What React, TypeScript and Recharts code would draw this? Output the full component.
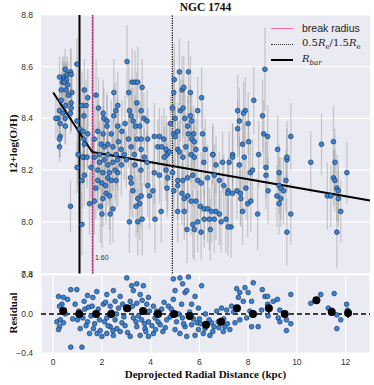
import React from "react";
import {
  ScatterChart,
  Scatter,
  XAxis,
  YAxis,
  CartesianGrid,
  ReferenceLine,
  ErrorBar,
} from "recharts";

// [radius kpc, 12+log(O/H), error]
const ohData: [number, number, number][] = [
  [0.97, 8.61, 0.1], [0.49, 8.59, 0.08], [0.71, 8.58, 0.09], [0.57, 8.57, 0.07], [0.74, 8.57, 0.1],
  [0.41, 8.56, 0.06], [0.26, 8.56, 0.08], [0.44, 8.55, 0.09], [0.55, 8.55, 0.07], [0.38, 8.54, 0.1],
  [0.46, 8.54, 0.08], [0.6, 8.53, 0.09], [0.33, 8.51, 0.07], [0.53, 8.51, 0.1], [0.77, 8.5, 0.08],
  [0.63, 8.49, 0.09], [0.74, 8.46, 0.11], [0.33, 8.47, 0.08], [0.74, 8.44, 0.09], [0.52, 8.45, 0.1],
  [0.71, 8.42, 0.08], [0.26, 8.43, 0.07], [0.4, 8.42, 0.09], [0.19, 8.4, 0.06], [0.11, 8.4, 0.08],
  [0.49, 8.4, 0.1], [0.29, 8.38, 0.09], [0.5, 8.37, 0.07], [0.29, 8.33, 0.08], [0.26, 8.32, 0.07],
  [0.26, 8.29, 0.06],
  [3.03, 8.62, 0.14], [1.28, 8.51, 0.12], [3.24, 8.54, 0.13], [3.36, 8.54, 0.12], [3.47, 8.54, 0.14],
  [3.65, 8.52, 0.11], [2.49, 8.5, 0.13], [3.1, 8.5, 0.12], [1.76, 8.49, 0.14], [1.42, 8.48, 0.11],
  [3.43, 8.46, 0.12], [1.18, 8.45, 0.13], [1.35, 8.45, 0.1], [1.86, 8.44, 0.12], [2.65, 8.45, 0.13],
  [2.57, 8.43, 0.11], [3.13, 8.43, 0.12], [3.61, 8.43, 0.1],
  [0.98, 8.39, 0.12], [1.26, 8.41, 0.11], [2.05, 8.42, 0.13], [2.08, 8.4, 0.12], [2.21, 8.39, 0.1],
  [2.49, 8.41, 0.12], [3.2, 8.41, 0.11], [3.28, 8.39, 0.13], [3.72, 8.4, 0.1], [3.85, 8.39, 0.12],
  [2.95, 8.38, 0.11], [3.37, 8.37, 0.12], [3.55, 8.37, 0.1], [2.21, 8.37, 0.13], [2.65, 8.37, 0.11],
  [1.08, 8.36, 0.12], [1.23, 8.35, 0.1], [1.42, 8.34, 0.13], [1.83, 8.35, 0.12], [2.05, 8.34, 0.11],
  [2.38, 8.34, 0.13], [2.82, 8.35, 0.12],
  [1.26, 8.32, 0.11], [1.69, 8.32, 0.13], [1.97, 8.3, 0.12], [2.24, 8.3, 0.1], [2.68, 8.31, 0.12],
  [3.09, 8.32, 0.11], [3.44, 8.32, 0.13], [3.61, 8.32, 0.1], [3.88, 8.32, 0.12],
  [1.28, 8.3, 0.12], [2.1, 8.29, 0.11], [2.45, 8.29, 0.13], [2.79, 8.28, 0.1], [3.2, 8.29, 0.12],
  [3.61, 8.28, 0.11],
  [1.02, 8.26, 0.12], [1.26, 8.25, 0.1], [1.9, 8.26, 0.13], [2.24, 8.26, 0.11], [2.58, 8.26, 0.12],
  [2.92, 8.26, 0.1], [3.33, 8.26, 0.13], [3.74, 8.25, 0.11],
  [1.22, 8.25, 0.11], [1.39, 8.25, 0.12], [0.98, 8.21, 0.1], [1.28, 8.18, 0.12], [1.18, 8.16, 0.11],
  [0.71, 8.06, 0.1], [1.18, 7.99, 0.12], [1.69, 8.08, 0.13], [1.49, 8.07, 0.12], [1.94, 8.06, 0.14],
  [2.0, 8.03, 0.13], [2.34, 8.03, 0.12], [2.45, 8.05, 0.13], [2.17, 8.11, 0.12], [2.31, 8.1, 0.13],
  [2.04, 8.09, 0.11], [1.83, 8.16, 0.12], [2.0, 8.15, 0.13], [2.24, 8.17, 0.11], [2.38, 8.16, 0.12],
  [2.65, 8.19, 0.13], [2.58, 8.16, 0.11],
  [3.17, 8.17, 0.12], [3.2, 8.15, 0.13], [3.27, 8.12, 0.11], [3.47, 8.09, 0.13], [3.61, 8.1, 0.12],
  [3.55, 8.07, 0.14], [3.4, 8.06, 0.12], [3.65, 8.01, 0.14], [3.47, 8.0, 0.13], [3.13, 8.0, 0.12],
  [3.88, 8.14, 0.12], [3.95, 8.1, 0.13],
  [1.69, 8.25, 0.12], [1.9, 8.23, 0.11], [2.1, 8.24, 0.13], [2.24, 8.22, 0.12], [2.45, 8.23, 0.11],
  [2.65, 8.24, 0.12], [1.83, 8.2, 0.13], [2.04, 8.19, 0.12], [2.31, 8.19, 0.11], [2.54, 8.2, 0.12],
  [2.8, 8.22, 0.12], [3.0, 8.24, 0.11], [3.35, 8.22, 0.12], [3.6, 8.2, 0.11], [3.85, 8.23, 0.12],
  [1.55, 8.21, 0.12], [1.75, 8.13, 0.12], [2.15, 8.14, 0.12],
  [5.18, 8.58, 0.13], [5.55, 8.58, 0.12], [4.97, 8.55, 0.14], [5.29, 8.51, 0.13], [5.36, 8.52, 0.12],
  [4.95, 8.5, 0.13], [5.63, 8.5, 0.14], [6.09, 8.48, 0.12], [4.89, 8.44, 0.13], [5.22, 8.43, 0.12],
  [5.33, 8.44, 0.11], [5.93, 8.43, 0.13], [5.63, 8.41, 0.12], [5.0, 8.4, 0.11], [5.4, 8.4, 0.13],
  [5.68, 8.39, 0.12], [4.81, 8.38, 0.11], [5.52, 8.37, 0.12],
  [7.57, 8.43, 0.14], [7.88, 8.43, 0.13], [7.81, 8.42, 0.12], [7.64, 8.39, 0.13], [8.0, 8.38, 0.12],
  [7.57, 8.36, 0.11], [8.23, 8.47, 0.13],
  [6.13, 8.34, 0.12], [5.76, 8.34, 0.11], [5.55, 8.34, 0.13], [4.95, 8.34, 0.12], [5.11, 8.35, 0.11],
  [5.01, 8.33, 0.12], [4.15, 8.33, 0.13], [4.54, 8.32, 0.12], [4.36, 8.33, 0.11],
  [5.68, 8.32, 0.12], [5.79, 8.31, 0.11], [5.44, 8.29, 0.13], [5.86, 8.28, 0.12], [4.29, 8.29, 0.11],
  [4.45, 8.29, 0.12], [4.63, 8.28, 0.13], [4.67, 8.26, 0.12], [5.11, 8.28, 0.11],
  [6.24, 8.28, 0.12], [7.77, 8.3, 0.13], [8.02, 8.31, 0.12], [6.55, 8.26, 0.11], [7.36, 8.26, 0.12],
  [7.84, 8.25, 0.13],
  [4.56, 8.25, 0.12], [4.77, 8.27, 0.11], [5.18, 8.27, 0.12], [5.32, 8.25, 0.13], [5.66, 8.26, 0.11],
  [5.79, 8.25, 0.12], [6.18, 8.23, 0.13], [6.55, 8.26, 0.12], [6.68, 8.22, 0.11], [6.95, 8.23, 0.12],
  [7.36, 8.25, 0.13], [7.22, 8.23, 0.12], [7.64, 8.22, 0.11], [8.09, 8.19, 0.12], [8.43, 8.26, 0.13],
  [8.18, 8.2, 0.12],
  [4.15, 8.19, 0.12], [4.36, 8.18, 0.11], [4.63, 8.2, 0.12], [4.7, 8.17, 0.13], [4.9, 8.19, 0.12],
  [5.11, 8.16, 0.11], [5.32, 8.16, 0.12], [5.52, 8.17, 0.13], [5.73, 8.18, 0.12], [5.93, 8.16, 0.11],
  [6.07, 8.15, 0.12], [6.34, 8.17, 0.13], [6.61, 8.18, 0.12], [6.82, 8.16, 0.11], [7.0, 8.14, 0.12],
  [7.18, 8.12, 0.13], [7.36, 8.11, 0.12], [7.54, 8.12, 0.11], [7.68, 8.11, 0.12], [7.98, 8.07, 0.13],
  [8.11, 8.08, 0.12], [8.39, 8.03, 0.14],
  [4.09, 8.12, 0.12], [4.67, 8.13, 0.11], [4.95, 8.12, 0.12], [5.11, 8.14, 0.13], [5.28, 8.11, 0.12],
  [5.38, 8.09, 0.11], [5.52, 8.1, 0.12], [5.66, 8.08, 0.13], [5.86, 8.08, 0.12], [6.04, 8.06, 0.11],
  [6.2, 8.05, 0.12], [6.34, 8.05, 0.13], [6.5, 8.04, 0.12], [6.68, 8.04, 0.11], [6.82, 8.03, 0.12],
  [7.09, 8.01, 0.13], [7.3, 7.98, 0.12], [7.18, 7.98, 0.11], [6.89, 8.0, 0.12], [6.61, 8.01, 0.13],
  [6.41, 8.01, 0.12], [6.2, 8.01, 0.11], [5.93, 8.0, 0.12], [5.73, 7.99, 0.13], [5.79, 7.97, 0.12],
  [6.07, 7.96, 0.11], [6.45, 7.97, 0.12], [5.49, 7.97, 0.13],
  [4.43, 8.04, 0.12], [4.18, 8.01, 0.13], [5.11, 8.04, 0.12], [5.38, 8.04, 0.11], [7.77, 8.04, 0.13],
  [7.16, 8.11, 0.12], [7.7, 8.09, 0.11], [7.91, 8.13, 0.12],
  [8.73, 8.21, 0.12], [8.73, 8.18, 0.13], [9.59, 8.24, 0.12], [9.27, 8.19, 0.11], [9.55, 8.16, 0.12],
  [8.82, 8.12, 0.13], [9.18, 8.1, 0.12], [9.27, 8.14, 0.11], [9.34, 8.13, 0.12], [9.45, 8.12, 0.13],
  [9.27, 8.07, 0.12], [9.34, 8.09, 0.11], [9.75, 8.03, 0.12], [9.59, 7.96, 0.13], [10.57, 8.23, 0.12],
  [11.56, 8.23, 0.13], [12.05, 8.19, 0.12], [11.5, 8.17, 0.11], [11.56, 8.16, 0.12], [11.64, 8.13, 0.13],
  [11.7, 8.12, 0.12], [11.25, 8.1, 0.13], [11.39, 8.1, 0.12], [11.7, 8.09, 0.11], [11.8, 8.04, 0.12],
  [11.64, 7.96, 0.14],
  [8.69, 8.59, 0.16], [8.59, 8.41, 0.14], [8.64, 8.34, 0.13], [8.8, 8.33, 0.12], [9.21, 8.28, 0.13],
  [9.59, 8.25, 0.14], [9.75, 8.33, 0.13], [11.01, 8.3, 0.12], [11.5, 8.31, 0.14],
];

// [radius kpc, residual]
const residData: [number, number][] = [
  [0.72, 0.25], [0.22, 0.18], [0.42, 0.17], [0.59, 0.15], [0.36, 0.1], [0.26, 0.08], [0.15, -0.08],
  [0.29, -0.06], [0.42, -0.09], [0.26, -0.13], [0.22, -0.16], [0.72, -0.34], [1.18, -0.34],
  [0.97, 0.25], [1.41, 0.19], [1.63, 0.17], [1.79, 0.23], [1.27, 0.13], [0.9, 0.1], [1.45, 0.07],
  [1.0, -0.06], [1.22, -0.04], [1.41, -0.08], [1.11, -0.15], [1.49, -0.2], [1.65, -0.15], [1.93, -0.17],
  [2.0, -0.23],
  [2.2, 0.2], [2.47, 0.24], [2.75, 0.18], [2.54, 0.13], [2.06, 0.1], [2.34, 0.08], [2.68, 0.06],
  [2.2, -0.04], [2.54, -0.06], [2.82, -0.09], [2.34, -0.13], [2.61, -0.15], [2.2, -0.2], [2.47, -0.22],
  [2.75, -0.18],
  [3.02, 0.37], [3.22, 0.29], [3.43, 0.31], [3.7, 0.29], [3.29, 0.24], [3.57, 0.2], [3.91, 0.17],
  [3.16, 0.13], [3.43, 0.11], [3.84, 0.1], [4.11, 0.08], [3.29, -0.04], [3.63, -0.06], [3.91, -0.08],
  [4.18, -0.04], [3.43, -0.13], [3.77, -0.15], [3.16, -0.23], [3.57, -0.22], [3.91, -0.23], [4.11, -0.2],
  [4.5, -0.18], [4.39, -0.11], [4.66, -0.06], [4.25, 0.03], [4.73, 0.08],
  [4.93, 0.36], [5.2, 0.37], [5.31, 0.31], [5.0, 0.24], [5.41, 0.22], [4.93, 0.15], [5.27, 0.1],
  [5.06, -0.08], [5.41, -0.13], [5.0, -0.16], [5.2, -0.2], [5.48, -0.23],
  [5.55, 0.38], [5.48, 0.24], [5.82, 0.18], [6.09, 0.29], [5.68, 0.1], [5.96, 0.06], [5.68, -0.11],
  [5.96, -0.16], [6.23, -0.15], [6.5, -0.09], [5.82, -0.22], [6.43, -0.22], [6.16, -0.2],
  [6.71, 0.03], [6.91, 0.06], [7.12, 0.04], [7.32, 0.08], [6.77, -0.08], [7.05, -0.13], [7.25, -0.16],
  [7.46, -0.09], [6.98, -0.18],
  [7.53, 0.26], [7.66, 0.22], [7.87, 0.27], [7.6, 0.17], [8.0, 0.22], [7.8, 0.13], [8.21, 0.32],
  [8.14, 0.13], [8.07, 0.03], [7.66, -0.06], [7.94, -0.04], [8.14, -0.13], [8.41, -0.13],
  [8.58, 0.25], [8.69, 0.18], [8.8, 0.18], [8.8, 0.1], [9.03, 0.13], [9.2, 0.15], [9.3, 0.04],
  [8.82, -0.02], [9.23, -0.04], [9.57, -0.06], [9.75, 0.2], [9.75, -0.1], [9.57, -0.17], [8.55, 0.04],
  [9.3, -0.08],
  [10.57, 0.11], [10.98, 0.2], [11.53, 0.21], [11.29, 0.06], [11.43, 0.04], [11.64, -0.01],
  [11.8, -0.06], [11.64, -0.15], [12.04, 0.1], [12.08, 0.04],
  [1.05, 0.03], [1.55, -0.02], [1.85, 0.05], [2.1, -0.08], [2.4, 0.02], [2.9, -0.03], [3.1, 0.05],
  [3.5, -0.02], [3.95, 0.03], [4.45, 0.05], [4.8, -0.03], [5.6, 0.02], [6.0, -0.05], [6.3, -0.12],
  [6.6, -0.13], [1.7, -0.1], [2.25, -0.12], [2.95, -0.12], [3.8, -0.18], [4.6, -0.14], [5.3, -0.04],
  [5.9, -0.09], [6.4, -0.06], [7.0, -0.05],
  [0.5, 0.0], [0.8, -0.05], [1.3, 0.05], [1.6, 0.08], [1.9, -0.06], [2.15, 0.12], [2.6, 0.0],
  [2.85, 0.1], [3.25, 0.08], [3.4, -0.08], [3.65, 0.14], [3.75, -0.1], [4.05, -0.12], [4.3, -0.08],
  [4.55, 0.12], [4.85, 0.05], [5.15, 0.0], [5.35, -0.1], [5.75, -0.05], [6.05, -0.1], [6.25, 0.0],
  [6.55, -0.18], [6.8, -0.14], [7.15, -0.1], [7.4, 0.02], [1.35, -0.12], [1.8, -0.2], [2.45, -0.17],
  [3.05, -0.19], [4.2, -0.16],
];

// binned medians [radius kpc, residual, error]
const binnedResid: [number, number, number][] = [
  [0.41, 0.03, 0.03], [1.07, 0.0, 0.02], [1.76, 0.0, 0.02], [2.38, 0.0, 0.02], [3.03, 0.06, 0.03],
  [3.69, 0.03, 0.02], [4.3, 0.0, 0.02], [4.96, 0.0, 0.02], [5.6, -0.02, 0.02], [6.27, -0.11, 0.02],
  [6.89, -0.08, 0.02], [7.54, 0.06, 0.03], [8.2, 0.0, 0.03], [8.85, 0.06, 0.05], [9.5, 0.0, 0.03],
  [10.8, 0.14, 0.03], [11.43, 0.02, 0.03], [12.1, 0.01, 0.05],
];

// piecewise gradient fit
const fitKnots: [number, number][] = [[0, 8.5], [1.6, 8.27], [13, 8.082]];

const rBar = 1.08;
const breakRadius = 1.62;
const reLine = 4.89;

const ohTicks = [7.8, 8.0, 8.2, 8.4, 8.6, 8.8];
const residTicks = [-0.4, 0.0, 0.4];
const kpcTicks = [0, 2, 4, 6, 8, 10, 12];

const BG = "#EAEAF2";
const tickStyle = { fontSize: 8.5, fill: "#333", fontFamily: "'Liberation Sans', Arial, sans-serif" };
const serifBold = { fontFamily: "'Liberation Serif', 'Times New Roman', serif", fontWeight: 700, fontSize: 11, color: "#111" };

const BlueDot = (p: any) => (
  <circle cx={p.cx} cy={p.cy} r={2.4} fill="#3584d8" stroke="#1b2c48" strokeWidth={0.6} />
);
const BlackDot = (p: any) => <circle cx={p.cx} cy={p.cy} r={4} fill="#000" />;

const fmt = (v: number) => (v < 0 ? "\u2212" + Math.abs(v).toFixed(1) : v.toFixed(1));

export default function App() {
  const ohPts = ohData.map(([x, y, err]) => ({ x, y, err }));
  const resPts = residData.map(([x, y]) => ({ x, y }));
  const binPts = binnedResid.map(([x, y, err]) => ({ x, y, err }));

  return (
    <div style={{ position: "absolute", left: 0, top: 0, width: 374, height: 385, background: "#fff" }}>
      <div style={{ position: "absolute", top: 0 }}>
        <ScatterChart width={374} height={285} margin={{ top: 15, right: 4, bottom: 11.5, left: 0 }}>
          <CartesianGrid vertical={false} stroke="#fff" strokeWidth={1.2} fill={BG} fillOpacity={1} />
          <XAxis type="number" dataKey="x" domain={[-0.5, 13]} hide />
          <YAxis
            type="number"
            dataKey="y"
            domain={[7.8, 8.8]}
            ticks={ohTicks}
            interval={0}
            tickFormatter={fmt}
            width={41}
            axisLine={false}
            tickLine={false}
            tick={tickStyle}
          />
          <Scatter data={ohPts} shape={BlueDot} isAnimationActive={false}>
            <ErrorBar dataKey="err" direction="y" width={0} stroke="#9a9a9a" strokeOpacity={0.45} strokeWidth={1.3} />
          </Scatter>
          <ReferenceLine x={rBar} stroke="#000" strokeWidth={2} />
          <ReferenceLine x={breakRadius} stroke="#ff69b4" strokeWidth={2} />
          <ReferenceLine x={breakRadius} stroke="#000" strokeWidth={1} strokeDasharray="1 2" />
          <ReferenceLine x={reLine} stroke="#000" strokeWidth={1.2} strokeDasharray="1.2 1.2" />
          <ReferenceLine
            segment={[{ x: fitKnots[0][0], y: fitKnots[0][1] }, { x: fitKnots[1][0], y: fitKnots[1][1] }]}
            stroke="#000"
            strokeWidth={2}
          />
          <ReferenceLine
            segment={[{ x: fitKnots[1][0], y: fitKnots[1][1] }, { x: fitKnots[2][0], y: fitKnots[2][1] }]}
            stroke="#000"
            strokeWidth={2}
          />
        </ScatterChart>
      </div>

      <div style={{ position: "absolute", top: 265 }}>
        <ScatterChart width={374} height={120} margin={{ top: 10, right: 4, bottom: 16, left: 0 }}>
          <CartesianGrid stroke="#fff" strokeWidth={1.2} fill={BG} fillOpacity={1} />
          <XAxis
            type="number"
            dataKey="x"
            domain={[-0.5, 13]}
            ticks={kpcTicks}
            interval={0}
            height={16}
            axisLine={false}
            tickLine={false}
            tickSize={4}
            tickMargin={2}
            tick={tickStyle}
          />
          <YAxis
            type="number"
            dataKey="y"
            domain={[-0.4, 0.4]}
            ticks={residTicks}
            interval={0}
            tickFormatter={fmt}
            width={41}
            axisLine={false}
            tickLine={false}
            tick={tickStyle}
          />
          <ReferenceLine y={0} stroke="#000" strokeWidth={1.5} strokeDasharray="5 3" />
          <Scatter data={resPts} shape={BlueDot} isAnimationActive={false} />
          <Scatter data={binPts} shape={BlackDot} isAnimationActive={false}>
            <ErrorBar dataKey="err" direction="y" width={0} stroke="#000" strokeWidth={1.5} />
          </Scatter>
        </ScatterChart>
      </div>

      {/* title and axis labels */}
      <div style={{ ...serifBold, fontSize: 11.5, position: "absolute", left: 0, width: 411, top: 1, textAlign: "center" }}>
        NGC 1744
      </div>
      <div
        style={{
          ...serifBold,
          position: "absolute",
          left: 13,
          top: 144,
          transform: "translate(-50%, -50%) rotate(-90deg)",
          whiteSpace: "nowrap",
        }}
      >
        12+log(O/H)
      </div>
      <div
        style={{
          ...serifBold,
          position: "absolute",
          left: 13,
          top: 313,
          transform: "translate(-50%, -50%) rotate(-90deg)",
          whiteSpace: "nowrap",
        }}
      >
        Residual
      </div>
      <div style={{ ...serifBold, position: "absolute", left: 0, width: 411, top: 368, textAlign: "center" }}>
        Deprojected Radial Distance (kpc)
      </div>

      {/* break radius annotation */}
      <div style={{ position: "absolute", left: 95, top: 254, fontSize: 7, color: "#333", fontFamily: "'Liberation Sans', Arial, sans-serif" }}>
        1.60
      </div>

      {/* legend */}
      <div style={{ position: "absolute", left: 271, top: 20, fontSize: 10.5, color: "#222", fontFamily: "'Liberation Sans', Arial, sans-serif" }}>
        <div style={{ display: "flex", alignItems: "center", height: 16 }}>
          <div style={{ width: 22, height: 0, borderTop: "1.5px solid #ff69b4", marginRight: 9 }} />
          <span>break radius</span>
        </div>
        <div style={{ display: "flex", alignItems: "center", height: 16 }}>
          <div style={{ width: 22, height: 0, borderTop: "1px dotted #333", marginRight: 9 }} />
          <span style={{ fontFamily: "'DejaVu Serif', 'Liberation Serif', serif", fontSize: 10 }}>
            0.5<i>R</i><sub style={{ fontSize: 7 }}>e</sub>/1.5<i>R</i><sub style={{ fontSize: 7 }}>e</sub>
          </span>
        </div>
        <div style={{ display: "flex", alignItems: "center", height: 16 }}>
          <div style={{ width: 22, height: 0, borderTop: "2px solid #000", marginRight: 9 }} />
          <span style={{ fontFamily: "'DejaVu Serif', 'Liberation Serif', serif", fontSize: 10 }}>
            <i>R</i><sub style={{ fontSize: 7 }}><i>bar</i></sub>
          </span>
        </div>
      </div>
    </div>
  );
}
